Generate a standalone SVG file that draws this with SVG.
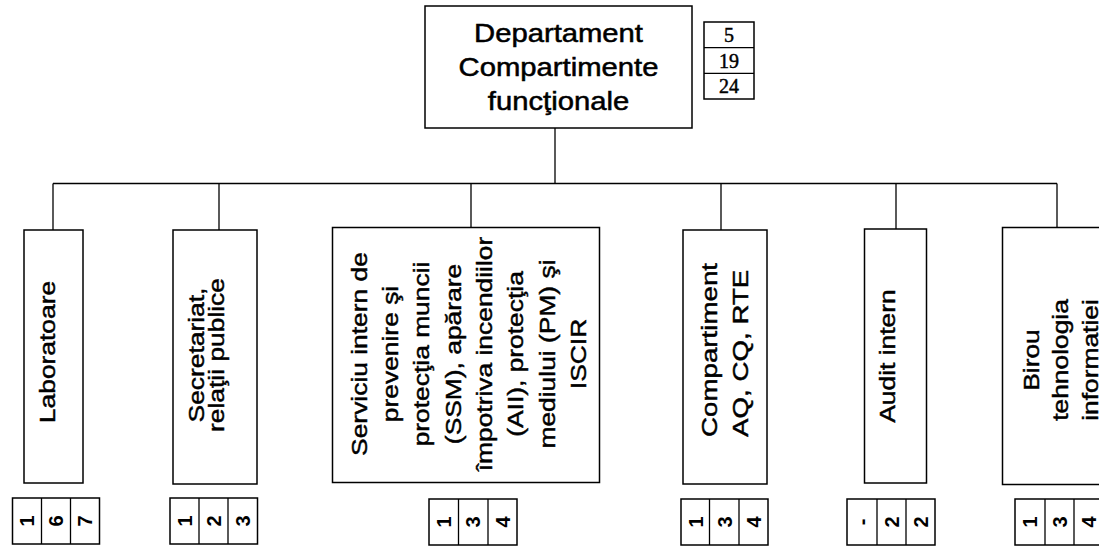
<svg xmlns="http://www.w3.org/2000/svg" width="1099" height="546" viewBox="0 0 1099 546">
<style>
.box{fill:#fff;stroke:#000;stroke-width:1.5}
.ln{stroke:#000;stroke-width:1.3;fill:none}
.t{font-family:"Liberation Sans",Arial,sans-serif;font-size:22px;fill:#000;stroke:#000;stroke-width:0.45;text-anchor:middle}
.tt{font-family:"Liberation Sans",Arial,sans-serif;font-size:25px;fill:#000;stroke:#000;stroke-width:0.5;text-anchor:middle}
.n{font-family:"Liberation Sans",Arial,sans-serif;font-weight:bold;font-size:20px;fill:#000;text-anchor:middle}
.s{font-family:"Liberation Serif","Times New Roman",serif;font-size:20px;fill:#000;stroke:#000;stroke-width:0.45;text-anchor:middle}
</style>
<rect width="1099" height="546" fill="#fff"/>
<g id="connectors">
<line class="ln" x1="555" y1="128" x2="555" y2="183.5"/>
<line class="ln" x1="53" y1="183.5" x2="1057" y2="183.5"/>
<line class="ln" x1="53" y1="183.5" x2="53" y2="230"/>
<line class="ln" x1="219" y1="183.5" x2="219" y2="230"/>
<line class="ln" x1="471" y1="183.5" x2="471" y2="227.5"/>
<line class="ln" x1="721" y1="183.5" x2="721" y2="230"/>
<line class="ln" x1="896" y1="183.5" x2="896" y2="229"/>
<line class="ln" x1="1057" y1="183.5" x2="1057" y2="227.5"/>
</g>
<g id="top">
<rect class="box" x="425" y="6" width="267" height="122"/>
<text class="tt" transform="translate(558.5,0) scale(1.17,1)"><tspan x="0" y="42">Departament</tspan><tspan x="0" y="76">Compartimente</tspan><tspan x="0" y="110">funcţionale</tspan></text>
</g>
<g id="top-count">
<rect class="box" x="704" y="22" width="50" height="77"/>
<line class="ln" x1="704" y1="47.7" x2="754" y2="47.7"/>
<line class="ln" x1="704" y1="73.3" x2="754" y2="73.3"/>
<text class="s" x="729" y="42">5</text>
<text class="s" x="729" y="67.5">19</text>
<text class="s" x="729" y="93">24</text>
</g>
<g id="laboratoare">
<rect class="box" x="24" y="230" width="59" height="253"/>
<text class="t" transform="translate(55,352) rotate(-90) scale(1.2,1)"><tspan x="0" y="0">Laboratoare</tspan></text>
</g>
<g id="secretariat">
<rect class="box" x="173" y="230" width="84" height="254"/>
<text class="t" transform="translate(204,355) rotate(-90) scale(1.2,1)"><tspan x="0" y="0">Secretariat,</tspan><tspan x="0" y="20">relaţii publice</tspan></text>
</g>
<g id="serviciu">
<rect class="box" x="332.5" y="227.5" width="267" height="255"/>
<text class="t" transform="translate(366.5,354) rotate(-90) scale(1.2,1)"><tspan x="0" y="0">Serviciu intern de</tspan><tspan x="0" y="31.4">prevenire şi</tspan><tspan x="0" y="62.8">protecţia muncii</tspan><tspan x="0" y="94.2">(SSM), apărare</tspan><tspan x="0" y="125.6">împotriva incendiilor</tspan><tspan x="0" y="157">(AII), protecţia</tspan><tspan x="0" y="188.4">mediului (PM) şi</tspan><tspan x="0" y="219.8">ISCIR</tspan></text>
</g>
<g id="compartiment">
<rect class="box" x="683" y="230" width="84" height="254"/>
<text class="t" style="text-anchor:start" transform="translate(717,437) rotate(-90) scale(1.26,1)"><tspan x="0" y="0">Compartiment</tspan><tspan x="0" y="31">AQ, CQ, RTE</tspan></text>
</g>
<g id="audit">
<rect class="box" x="864.5" y="229" width="62" height="254"/>
<text class="t" transform="translate(895,356) rotate(-90) scale(1.2,1)"><tspan x="0" y="0">Audit intern</tspan></text>
</g>
<g id="birou">
<rect class="box" x="1002.5" y="227.5" width="110" height="257"/>
<text class="t" transform="translate(1039,360) rotate(-90) scale(1.2,1)"><tspan x="0" y="0">Birou</tspan><tspan x="0" y="29.5">tehnologia</tspan><tspan x="0" y="59">informatiei</tspan></text>
</g>
<g id="count-laboratoare">
<rect class="box" x="12.5" y="498" width="87" height="46"/>
<line class="ln" x1="41.5" y1="498" x2="41.5" y2="544"/><line class="ln" x1="70.5" y1="498" x2="70.5" y2="544"/>
<text class="n" transform="translate(27,521) rotate(-90)" dy="7">1</text>
<text class="n" transform="translate(56,521) rotate(-90)" dy="7">6</text>
<text class="n" transform="translate(85,521) rotate(-90)" dy="7">7</text>
</g>
<g id="count-secretariat">
<rect class="box" x="170" y="498" width="87.5" height="46"/>
<line class="ln" x1="199" y1="498" x2="199" y2="544"/><line class="ln" x1="228" y1="498" x2="228" y2="544"/>
<text class="n" transform="translate(184.5,521) rotate(-90)" dy="7">1</text>
<text class="n" transform="translate(213.5,521) rotate(-90)" dy="7">2</text>
<text class="n" transform="translate(243,521) rotate(-90)" dy="7">3</text>
</g>
<g id="count-serviciu">
<rect class="box" x="429" y="499" width="88" height="46"/>
<line class="ln" x1="458.5" y1="499" x2="458.5" y2="545"/><line class="ln" x1="488" y1="499" x2="488" y2="545"/>
<text class="n" transform="translate(444,522) rotate(-90)" dy="7">1</text>
<text class="n" transform="translate(473,522) rotate(-90)" dy="7">3</text>
<text class="n" transform="translate(502.5,522) rotate(-90)" dy="7">4</text>
</g>
<g id="count-compartiment">
<rect class="box" x="681" y="499" width="87" height="46"/>
<line class="ln" x1="709.5" y1="499" x2="709.5" y2="545"/><line class="ln" x1="739" y1="499" x2="739" y2="545"/>
<text class="n" transform="translate(695.5,522) rotate(-90)" dy="7">1</text>
<text class="n" transform="translate(724.5,522) rotate(-90)" dy="7">3</text>
<text class="n" transform="translate(753.5,522) rotate(-90)" dy="7">4</text>
</g>
<g id="count-audit">
<rect class="box" x="847" y="499" width="88" height="46"/>
<line class="ln" x1="877" y1="499" x2="877" y2="545"/><line class="ln" x1="906" y1="499" x2="906" y2="545"/>
<text class="n" transform="translate(862,522) rotate(-90)" dy="7">-</text>
<text class="n" transform="translate(891.5,522) rotate(-90)" dy="7">2</text>
<text class="n" transform="translate(920.5,522) rotate(-90)" dy="7">2</text>
</g>
<g id="count-birou">
<rect class="box" x="1015" y="499" width="90" height="46"/>
<line class="ln" x1="1045" y1="499" x2="1045" y2="545"/><line class="ln" x1="1074" y1="499" x2="1074" y2="545"/>
<text class="n" transform="translate(1030,522) rotate(-90)" dy="7">1</text>
<text class="n" transform="translate(1059.5,522) rotate(-90)" dy="7">3</text>
<text class="n" transform="translate(1088.5,522) rotate(-90)" dy="7">4</text>
</g>
</svg>
